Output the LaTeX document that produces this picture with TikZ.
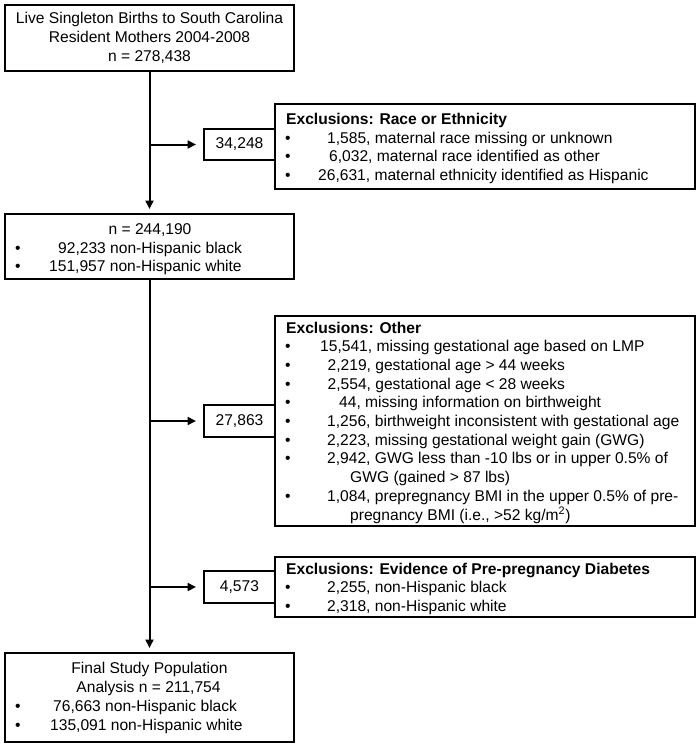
\documentclass[tikz,border=0pt]{standalone}
\usepackage{fontspec}
\setmainfont{Liberation Sans}
\usetikzlibrary{arrows.meta}
\begin{document}
\begin{tikzpicture}[x=1pt,y=-1pt,
  every node/.style={font=\fontsize{15.6}{18.7}\selectfont},
  box/.style={draw,line width=2pt,inner sep=0pt,align=center},
  txt/.style={inner sep=0pt,anchor=base west},
  txtc/.style={inner sep=0pt,anchor=base},
  hdr/.style={inner sep=0pt,anchor=base west,font=\fontsize{15.6}{18.7}\selectfont\bfseries},
  conn/.style={line width=2pt,-{Triangle[length=8.5pt,width=8pt]}}
]
\useasboundingbox (0,0) rectangle (699,744);

% left column boxes
\node[box,minimum width=289pt,minimum height=66pt] (top) at (149.5,38)
  {Live Singleton Births to South Carolina\\Resident Mothers 2004-2008\\n = 278,438};
\node[box,minimum width=289pt,minimum height=65pt] (pop) at (149.5,246.5) {};
\node[box,minimum width=289pt,minimum height=89pt] (final) at (149.5,697.5) {};

% right column boxes
\node[box,minimum width=420pt,minimum height=85pt] (race) at (485,146.5) {};
\node[box,minimum width=420pt,minimum height=210pt] (other) at (485,421) {};
\node[box,minimum width=420pt,minimum height=60pt] (diab) at (485,587) {};

% count boxes
\node[box,minimum width=71pt,minimum height=31pt] (c34) at (239.5,144.5) {34,248};
\node[box,minimum width=71pt,minimum height=32pt] (c27) at (239.5,421) {27,863};
\node[box,minimum width=71pt,minimum height=32pt] (c45) at (239.5,587) {4,573};

% texts: second box
\node[txtc] (p1) at (150,234.5) {n = 244,190};
\node[txt] (pb2) at (15,253) {\textbullet};
\node[txt] (p2) at (58,253) {92,233 non-Hispanic black};
\node[txt] (pb3) at (15,271.5) {\textbullet};
\node[txt] (p3) at (49,271.5) {151,957 non-Hispanic white};

% texts: final box
\node[txtc] (f1) at (149.5,673.5) {Final Study Population};
\node[txtc] (f2) at (148.5,692.5) {Analysis n = 211,754};
\node[txt] (fb3) at (15,711.5) {\textbullet};
\node[txt] (f3) at (53,711.5) {76,663 non-Hispanic black};
\node[txt] (fb4) at (15,730.5) {\textbullet};
\node[txt] (f4) at (50,730.5) {135,091 non-Hispanic white};

% texts: race box
\node[hdr] (r1) at (286,124.5) {Exclusions: Race or Ethnicity};
\node[txt] (rb2) at (285,143) {\textbullet};
\node[txt] (r2) at (327,143) {1,585, maternal race missing or unknown};
\node[txt] (rb3) at (285,161.5) {\textbullet};
\node[txt] (r3) at (329,161.5) {6,032, maternal race identified as other};
\node[txt] (rb4) at (285,180) {\textbullet};
\node[txt] (r4) at (318,180) {26,631, maternal ethnicity identified as Hispanic};

% texts: other box
\node[hdr] (o1) at (286,333) {Exclusions: Other};
\node[txt] (ob2) at (285,351.7) {\textbullet};
\node[txt] (o2) at (320,351.7) {15,541, missing gestational age based on LMP};
\node[txt] (ob3) at (285,370.4) {\textbullet};
\node[txt] (o3) at (327.5,370.4) {2,219, gestational age > 44 weeks};
\node[txt] (ob4) at (285,389.1) {\textbullet};
\node[txt] (o4) at (327.5,389.1) {2,554, gestational age < 28 weeks};
\node[txt] (ob5) at (285,407.8) {\textbullet};
\node[txt] (o5) at (339,407.8) {44, missing information on birthweight};
\node[txt] (ob6) at (285,426.5) {\textbullet};
\node[txt] (o6) at (327,426.5) {1,256, birthweight inconsistent with gestational age};
\node[txt] (ob7) at (285,445.2) {\textbullet};
\node[txt] (o7) at (327,445.2) {2,223, missing gestational weight gain (GWG)};
\node[txt] (ob8) at (285,463.9) {\textbullet};
\node[txt] (o8) at (327,463.9) {2,942, GWG less than -10 lbs or in upper 0.5\% of};
\node[txt] (o9) at (350,482.6) {GWG (gained > 87 lbs)};
\node[txt] (ob10) at (285,501.3) {\textbullet};
\node[txt] (o10) at (327,501.3) {1,084, prepregnancy BMI in the upper 0.5\% of pre-};
\node[txt] (o11) at (350,520) {pregnancy BMI (i.e., >52 kg/m\textsuperscript{2})};

% texts: diabetes box
\node[hdr] (d1) at (286,574) {Exclusions: Evidence of Pre-pregnancy Diabetes};
\node[txt] (db2) at (285,592.5) {\textbullet};
\node[txt] (d2) at (327,592.5) {2,255, non-Hispanic black};
\node[txt] (db3) at (285,611) {\textbullet};
\node[txt] (d3) at (327,611) {2,318, non-Hispanic white};

% connectors
\draw[conn,shorten >=4pt] (top.south) -- (pop.north);
\draw[conn,shorten >=4pt] (pop.south) -- (final.north);
\draw[conn,shorten >=7pt] (top.south |- c34.west) -- (c34.west);
\draw[conn,shorten >=7pt] (pop.south |- c27.west) -- (c27.west);
\draw[conn,shorten >=7pt] (pop.south |- c45.west) -- (c45.west);
\end{tikzpicture}
\end{document}
